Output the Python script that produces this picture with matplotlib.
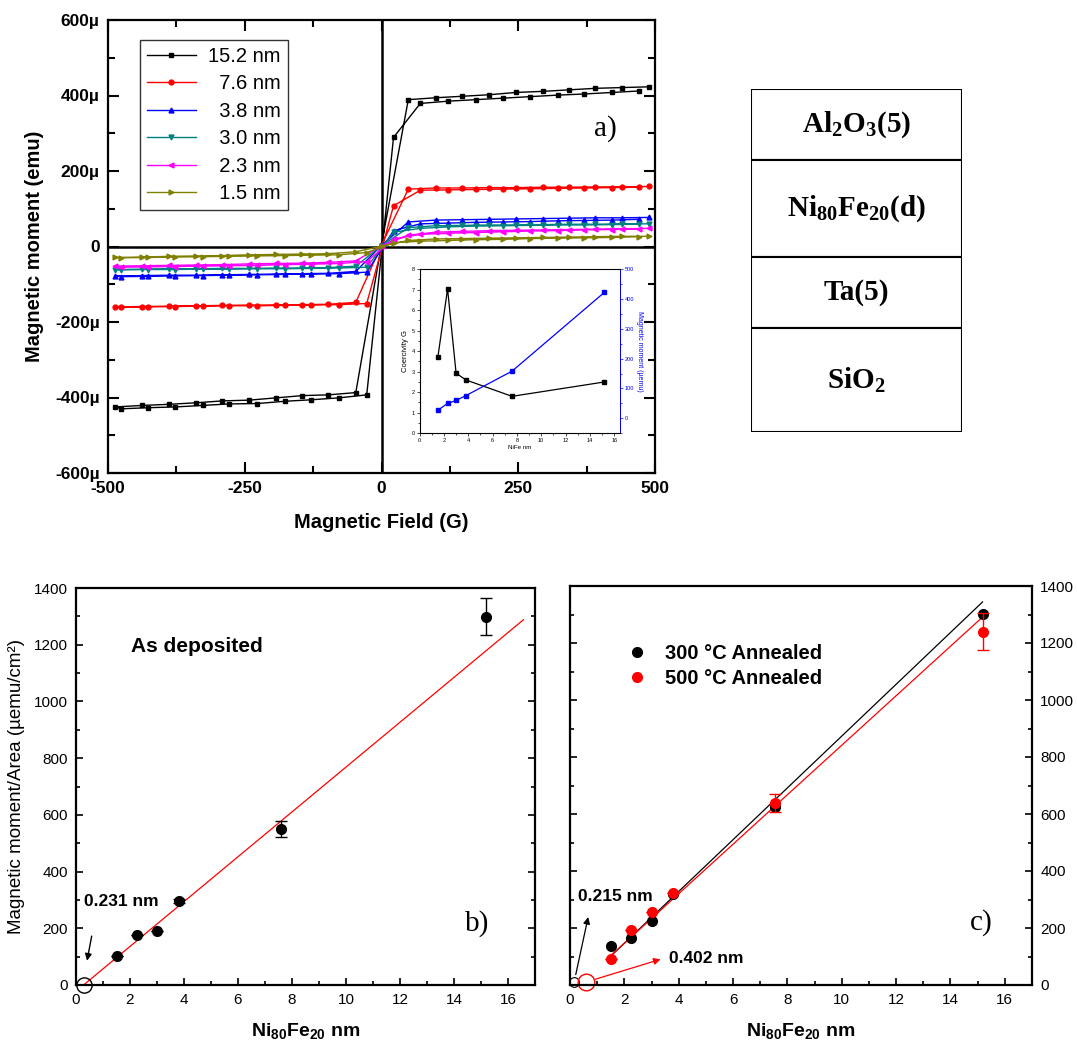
import matplotlib
matplotlib.use('Agg')
import matplotlib.pyplot as plt
from matplotlib.ticker import MultipleLocator, FuncFormatter

plt.rcParams['font.family'] = ['Liberation Sans', 'DejaVu Sans']
plt.rcParams['mathtext.fontset'] = 'custom'
plt.rcParams['mathtext.sf'] = 'Liberation Sans:bold'
plt.rcParams['mathtext.bf'] = 'Liberation Serif:bold'

# ---- a) hysteresis loops (field in G, moment in micro-emu) ----
H_dn = [489, 439, 391, 343, 295, 245, 197, 148, 99, 49, 0,
        -47, -97, -145, -193, -242, -291, -339, -388, -437, -487]
H_up = [-476, -426, -377, -327, -278, -227, -177, -128, -78, -27,
        22, 71, 122, 172, 223, 272, 322, 371, 421, 471]

labels = ["15.2 nm", "  7.6 nm", "  3.8 nm", "  3.0 nm", "  2.3 nm", "  1.5 nm"]
colors = ["black", "#ff0000", "#0000ff", "#008080", "#ff00ff", "#808000"]
markers = ["s", "o", "^", "v", "<", ">"]

M_dn = [
    [423, 421, 419, 415, 411, 408, 402, 398, 394, 389, 5,
     -387, -393, -395, -401, -407, -409, -414, -418, -421, -425],
    [159, 158, 158, 157, 157, 156, 156, 155, 155, 152, 4,
     -148, -153, -154, -155, -155, -156, -157, -158, -159, -160],
    [77, 76, 76, 75, 74, 73, 72, 71, 70, 65, 3,
     -66, -71, -72, -73, -74, -75, -76, -76, -77, -78],
    [60, 60, 59, 59, 58, 57, 57, 56, 55, 50, 2,
     -52, -56, -57, -57, -58, -58, -59, -59, -60, -61],
    [48, 47, 46, 45, 44, 43, 42, 40, 38, 30, 2,
     -38, -42, -44, -45, -46, -48, -49, -50, -51, -52],
    [27, 27, 26, 25, 24, 23, 22, 21, 20, 16, 1,
     -14, -19, -20, -21, -22, -24, -25, -26, -28, -29],
]
M_up = [
    [-430, -427, -425, -421, -417, -416, -410, -406, -401, -393,
     289, 379, 385, 389, 393, 397, 401, 404, 408, 412],
    [-161, -160, -159, -158, -157, -157, -156, -155, -154, -151,
     108, 149, 150, 151, 152, 153, 154, 155, 156, 157],
    [-80, -79, -78, -77, -76, -75, -74, -73, -72, -68,
     42, 60, 62, 64, 65, 66, 68, 69, 70, 72],
    [-62, -61, -61, -60, -60, -59, -59, -58, -57, -55,
     38, 48, 52, 54, 55, 56, 57, 57, 58, 59],
    [-55, -54, -53, -52, -51, -50, -48, -47, -45, -40,
     20, 32, 35, 37, 39, 41, 42, 44, 45, 46],
    [-30, -29, -28, -27, -26, -25, -24, -23, -22, -16,
     10, 14, 16, 18, 19, 21, 22, 23, 24, 26],
]

# inset: coercivity and moment vs thickness
t_in = [1.5, 2.3, 3.0, 3.8, 7.6, 15.2]
coer = [3.7, 7.03, 2.93, 2.6, 1.8, 2.5]
mom_in = [27, 50, 60, 76, 158, 422]

# layer stack (top to bottom), relative box heights
layers = [r"Al$_{\mathbf{2}}$O$_{\mathbf{3}}$(5)", r"Ni$_{\mathbf{80}}$Fe$_{\mathbf{20}}$(d)",
          "Ta(5)", r"SiO$_{\mathbf{2}}$"]
layer_h = [71, 97, 70, 104]

# ---- b) as deposited ----
xb = [1.5, 2.27, 3.0, 3.8, 7.6, 15.2]
yb = [102, 178, 191, 296, 551, 1299]
eb = [0, 0, 0, 8, 28, 65]
fitb_x = [0.28, 16.57]
fitb_y = [0, 1288]

# ---- c) annealed ----
xc = [1.5, 2.25, 3.0, 3.78, 7.56, 15.18]
y300 = [136, 166, 225, 321, 624, 1303]
y500 = [91, 192, 257, 323, 638, 1240]
e500 = [0, 0, 0, 0, 31, 64]
fit300_x = [1.51, 15.18]
fit300_y = [102, 1344]
fit500_x = [1.45, 15.18]
fit500_y = [99, 1291]

W, Hpx = 1077, 1044
fig = plt.figure(figsize=(W / 100, Hpx / 100), dpi=100)


def box(l, t, r, b):
    return [l / W, 1 - b / Hpx, (r - l) / W, (b - t) / Hpx]


# ---------------- panel a ----------------
ax = fig.add_axes(box(108, 20, 655, 473))
for i in range(len(labels)):
    ax.plot(H_dn + H_up, M_dn[i] + M_up[i], color=colors[i], marker=markers[i],
            ms=3.5, lw=1, label=labels[i])
ax.axhline(0, color="black", lw=1.8, zorder=0)
ax.axvline(0, color="black", lw=1.8, zorder=0)
ax.set_xlim(-500, 500)
ax.set_ylim(-600, 600)
ax.xaxis.set_major_locator(MultipleLocator(250))
ax.xaxis.set_minor_locator(MultipleLocator(125))
ax.yaxis.set_major_locator(MultipleLocator(200))
ax.yaxis.set_minor_locator(MultipleLocator(100))
ax.yaxis.set_major_formatter(FuncFormatter(lambda v, p: "0" if v == 0 else f"{int(v)}µ"))
ax.xaxis.set_major_formatter(FuncFormatter(lambda v, p: f"{int(v)}"))
ax.tick_params(which="both", direction="in", top=True, right=True, width=1.5)
ax.tick_params(which="major", length=8, labelsize=12.5, pad=6)
ax.tick_params(which="minor", length=5)
for lab in ax.get_xticklabels() + ax.get_yticklabels():
    lab.set_fontweight("bold")
for s in ax.spines.values():
    s.set_linewidth(1.6)
ax.set_xlabel("Magnetic Field (G)", fontsize=14.5, fontweight="bold", labelpad=12)
ax.set_ylabel("Magnetic moment (emu)", fontsize=14.5, fontweight="bold", labelpad=8)
leg = ax.legend(loc="upper left", bbox_to_anchor=(0.059, 0.956), fontsize=14.5,
                frameon=True, fancybox=False, edgecolor="black", handlelength=2.4,
                labelspacing=0.42, borderpad=0.35, handletextpad=0.6,
                borderaxespad=0)
leg.get_frame().set_linewidth(1.0)
ax.text(0.91, 0.76, "a)", transform=ax.transAxes, fontsize=21,
        family="Liberation Serif", ha="center", va="center")

# inset
axi = fig.add_axes(box(419.6, 269, 619.9, 433.3))
axi.plot(t_in, coer, color="black", marker="s", ms=2.2, lw=0.9)
axi.set_xlim(0, 16.47)
axi.set_ylim(0, 8)
axi.xaxis.set_major_locator(MultipleLocator(2))
axi.xaxis.set_minor_locator(MultipleLocator(1))
axi.yaxis.set_major_locator(MultipleLocator(1))
axi.yaxis.set_minor_locator(MultipleLocator(0.5))
axi.tick_params(which="both", labelsize=4, length=2, width=0.5, pad=1.5)
axi.tick_params(which="minor", length=1.2)
axi.set_xlabel("NiFe nm", fontsize=4.5, labelpad=1.5)
axi.set_ylabel("Coercivity G", fontsize=5.5, labelpad=2)
for s in axi.spines.values():
    s.set_linewidth(0.7)
axr = axi.twinx()
axr.plot(t_in, mom_in, color="#0000ff", marker="s", ms=2.2, lw=0.9)
axr.set_ylim(-50, 500)
axr.yaxis.set_major_locator(MultipleLocator(100))
axr.yaxis.set_minor_locator(MultipleLocator(50))
axr.tick_params(which="both", labelsize=4, length=2, width=0.5, pad=1.5,
                colors="#0000ff")
axr.tick_params(which="minor", length=1.2)
axr.spines["right"].set_color("#0000ff")
axr.spines["right"].set_linewidth(0.7)
axr.set_ylabel("Magnetic moment (µemu)", fontsize=5, color="#0000ff",
               rotation=270, labelpad=6)

# ---------------- layer stack ----------------
axs = fig.add_axes(box(751, 89, 962, 432))
bottoms = []
acc = 0
for h in layer_h:
    bottoms.append(acc)
    acc += h
axs.bar([0] * len(layer_h), layer_h, bottom=bottoms, width=1, color="white",
        edgecolor="black", linewidth=1.5)
for name, b0, h in zip(layers, bottoms, layer_h):
    axs.text(0, b0 + h / 2, name, ha="center", va="center", fontsize=21,
             family="Liberation Serif", fontweight="bold")
axs.set_xlim(-0.5, 0.5)
axs.set_ylim(acc, 0)
axs.axis("off")

# ---------------- panel b ----------------
axb = fig.add_axes(box(76, 588, 535, 985))
axb.plot(fitb_x, fitb_y, color="#ff0000", lw=0.9)
axb.errorbar(xb, yb, yerr=eb, fmt="o", color="black", ms=7, capsize=4,
             elinewidth=1, capthick=1)
axb.plot([fitb_x[0]], [fitb_y[0]], "o", mfc="none", mec="black", ms=11,
         mew=1, clip_on=False)
axb.annotate("", xy=(0.39, 76), xytext=(0.6, 182),
             arrowprops=dict(arrowstyle="-|>", color="black", lw=1,
                             mutation_scale=10))
axb.text(0.28, 296, "0.231 nm", fontsize=12.5, fontweight="bold", va="center")
axb.text(2.03, 1195, "As deposited", fontsize=15, fontweight="bold", va="center")
axb.text(14.4, 217, "b)", fontsize=21, family="Liberation Serif", va="center")
axb.set_xlim(0, 17)
axb.set_ylim(0, 1400)
axb.xaxis.set_major_locator(MultipleLocator(2))
axb.xaxis.set_minor_locator(MultipleLocator(1))
axb.yaxis.set_major_locator(MultipleLocator(200))
axb.yaxis.set_minor_locator(MultipleLocator(100))
axb.tick_params(which="both", direction="in", right=True, width=1.2)
axb.tick_params(which="major", length=5, labelsize=11, pad=6)
axb.tick_params(which="minor", length=3)
for s in axb.spines.values():
    s.set_linewidth(1.6)
axb.set_xlabel(r"Ni$_{\mathsf{80}}$Fe$_{\mathsf{20}}$ nm", fontsize=14,
               fontweight="bold", labelpad=10)
axb.set_ylabel("Magnetic moment/Area (µemu/cm²)", fontsize=13.5, labelpad=6)

# ---------------- panel c ----------------
axc = fig.add_axes(box(570, 586, 1032, 985))
axc.plot(fit300_x, fit300_y, color="black", lw=0.9)
axc.plot(fit500_x, fit500_y, color="#ff0000", lw=0.9)
axc.plot(xc, y300, "o", color="black", ms=7, label="300 °C Annealed")
axc.errorbar(xc, y500, yerr=e500, fmt="none", ecolor="#ff0000", capsize=4,
             elinewidth=1, capthick=1)
axc.plot(xc, y500, "o", color="#ff0000", ms=7, label="500 °C Annealed")
axc.plot([0.13], [9], "o", mfc="none", mec="black", ms=7, mew=0.8, clip_on=False)
axc.plot([0.6], [9], "o", mfc="none", mec="#ff0000", ms=12, mew=1, clip_on=False)
axc.annotate("", xy=(0.69, 248), xytext=(0.19, 27),
             arrowprops=dict(arrowstyle="-|>", color="black", lw=0.9,
                             mutation_scale=10))
axc.annotate("", xy=(3.43, 93), xytext=(0.82, 17),
             arrowprops=dict(arrowstyle="-|>", color="#ff0000", lw=0.9,
                             mutation_scale=10))
axc.text(0.31, 312, "0.215 nm", fontsize=12.5, fontweight="bold", va="center")
axc.text(3.63, 93, "0.402 nm", fontsize=12.5, fontweight="bold", va="center")
axc.text(14.7, 219, "c)", fontsize=21, family="Liberation Serif", va="center")
hl = axc.legend(loc="upper left", bbox_to_anchor=(0.08, 0.9), frameon=False,
                fontsize=14.5, handletextpad=0.8, labelspacing=0.3,
                handlelength=1.2)
for t in hl.get_texts():
    t.set_fontweight("bold")
axc.set_xlim(0, 17)
axc.set_ylim(0, 1400)
axc.yaxis.tick_right()
axc.xaxis.set_major_locator(MultipleLocator(2))
axc.xaxis.set_minor_locator(MultipleLocator(1))
axc.yaxis.set_major_locator(MultipleLocator(200))
axc.yaxis.set_minor_locator(MultipleLocator(100))
axc.tick_params(which="both", direction="in", left=True, right=True, width=1.2)
axc.tick_params(which="major", length=5, labelsize=11, pad=6)
axc.tick_params(which="minor", length=3)
for s in axc.spines.values():
    s.set_linewidth(1.6)
axc.set_xlabel(r"Ni$_{\mathsf{80}}$Fe$_{\mathsf{20}}$ nm", fontsize=14,
               fontweight="bold", labelpad=10)

fig.savefig("out.png", dpi=100)
